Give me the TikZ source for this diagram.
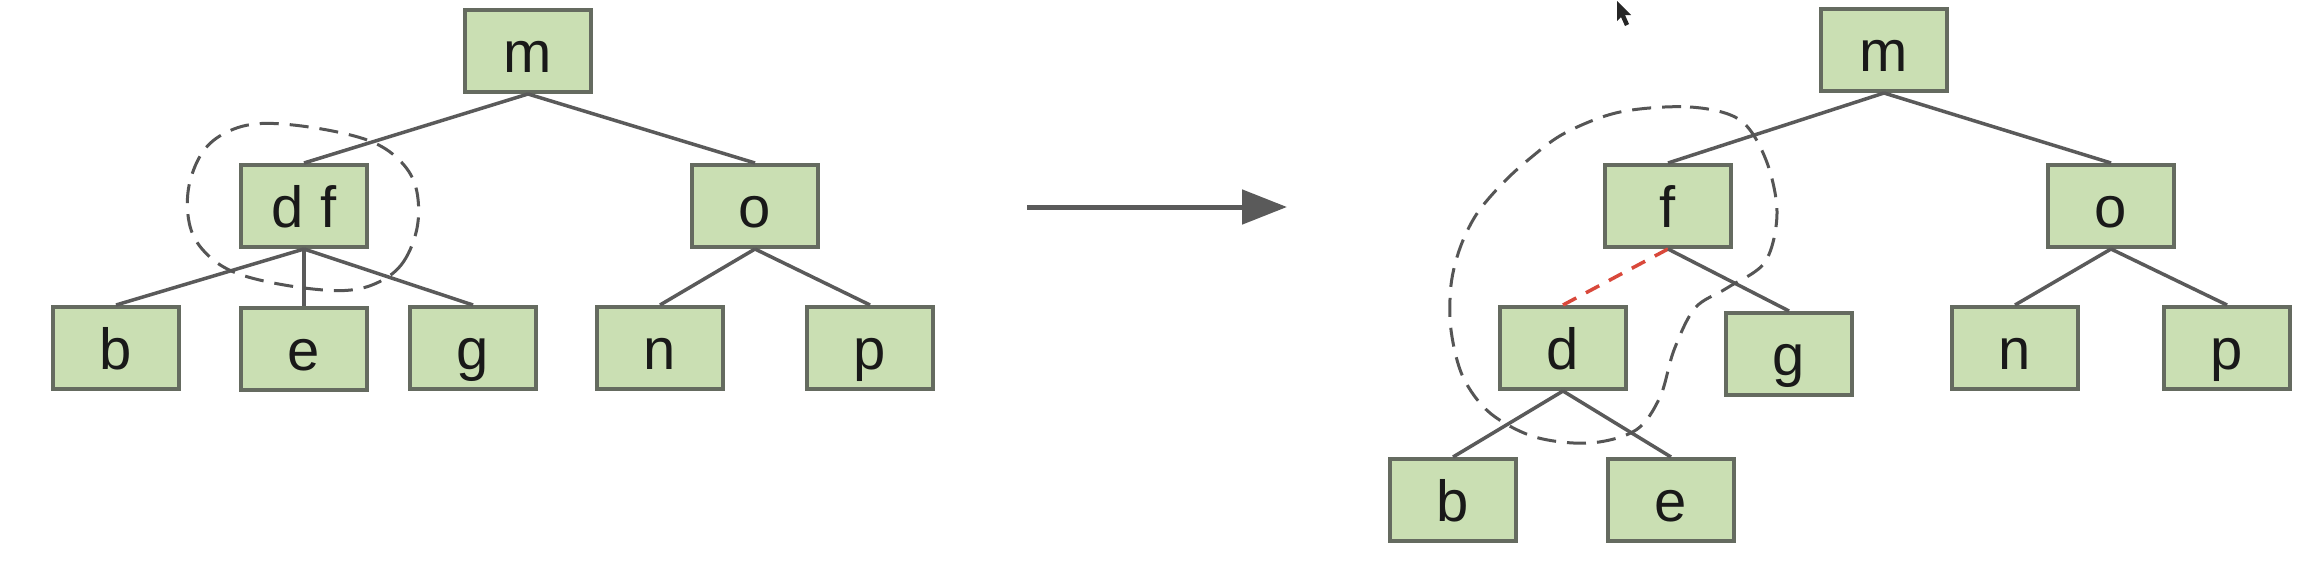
\documentclass[tikz,border=0pt]{standalone}
\usepackage{fontspec}
\setmainfont{Liberation Sans}
\usetikzlibrary{arrows.meta}
\definecolor{boxfill}{HTML}{CADFB3}
\definecolor{boxborder}{HTML}{656B60}
\definecolor{edgecol}{HTML}{5A5A5A}
\definecolor{blobcol}{HTML}{555555}
\definecolor{redcol}{HTML}{D9483B}
\tikzset{
  treebox/.style={draw=boxborder, fill=boxfill, line width=4pt,
    minimum width=126pt, minimum height=82pt, inner sep=0pt,
    font=\fontsize{58}{60}\selectfont, text=black!90,
    text height=42pt, text depth=0pt},
  treeedge/.style={draw=edgecol, line width=3.5pt},
  blob/.style={draw=blobcol, line width=3pt, dash pattern=on 19pt off 11pt},
  reddash/.style={draw=redcol, line width=3.5pt, dash pattern=on 15pt off 11pt},
  bigarrow/.style={draw=edgecol, line width=5pt, -{Triangle[length=45pt,width=34pt]}}
}
\begin{document}
\begin{tikzpicture}[x=1pt,y=-1pt]
\useasboundingbox (0,0) rectangle (2301,565);
\fill[white] (0,0) rectangle (2301,565);
% ---------- left tree ----------
\node[treebox] (m1) at (528,51) {m};
\node[treebox] (df) at (304,206) {d f};
\node[treebox] (o1) at (755,206) {o};
\node[treebox] (b1) at (116,348) {b};
\node[treebox] (e1) at (304,349) {e};
\node[treebox] (g1) at (473,348) {g};
\node[treebox] (n1) at (660,348) {n};
\node[treebox] (p1) at (870,348) {p};
\draw[treeedge] (m1.south) -- (df.north);
\draw[treeedge] (m1.south) -- (o1.north);
\draw[treeedge] (df.south) -- (b1.north);
\draw[treeedge] (df.south) -- (e1.north);
\draw[treeedge] (df.south) -- (g1.north);
\draw[treeedge] (o1.south) -- (n1.north);
\draw[treeedge] (o1.south) -- (p1.north);
\begin{scope}[shift={(303,207)}, rotate=-9]
\draw[blob] plot[smooth cycle, tension=0.6] coordinates {
  (116,0) (108,38) (87,62) (54,76) (0,80) (-54,76) (-87,62) (-108,38)
  (-116,0) (-108,-38) (-87,-62) (-54,-76) (0,-80) (54,-76) (87,-62) (108,-38)};
\end{scope}
% ---------- arrow ----------
\coordinate (a0) at (1027,207);
\coordinate (a1) at (1287,207);
\draw[bigarrow] (a0) -- (a1);
% ---------- right tree ----------
\node[treebox] (m2) at (1884,50) {m};
\node[treebox] (f2) at (1668,206) {f};
\node[treebox] (o2) at (2111,206) {o};
\node[treebox] (d2) at (1563,348) {d};
\node[treebox] (g2) at (1789,354) {g};
\node[treebox] (n2) at (2015,348) {n};
\node[treebox] (p2) at (2227,348) {p};
\node[treebox] (b2) at (1453,500) {b};
\node[treebox] (e2) at (1671,500) {e};
\draw[treeedge] (m2.south) -- (f2.north);
\draw[treeedge] (m2.south) -- (o2.north);
\draw[reddash] (f2.south) -- (d2.north);
\draw[treeedge] (f2.south) -- (g2.north);
\draw[treeedge] (o2.south) -- (n2.north);
\draw[treeedge] (o2.south) -- (p2.north);
\draw[treeedge] (d2.south) -- (b2.north);
\draw[treeedge] (d2.south) -- (e2.north);
\draw[blob] plot[smooth cycle, tension=0.55] coordinates {
  (1620,112) (1690,107) (1740,120) (1766,160) (1777,213) (1765,262)
  (1727,288) (1695,308) (1674,350) (1660,397) (1636,430) (1590,443)
  (1535,437) (1490,413) (1463,377) (1451,330) (1451,285) (1460,248)
  (1476,215) (1500,186) (1528,160) (1565,133)};
% ---------- mouse pointer ----------
\fill[black!85] (1617,1) -- (1617,21) -- (1621,17) -- (1625,26) -- (1629,24)
  -- (1625,15) -- (1631,15) -- cycle;
\end{tikzpicture}
\end{document}
